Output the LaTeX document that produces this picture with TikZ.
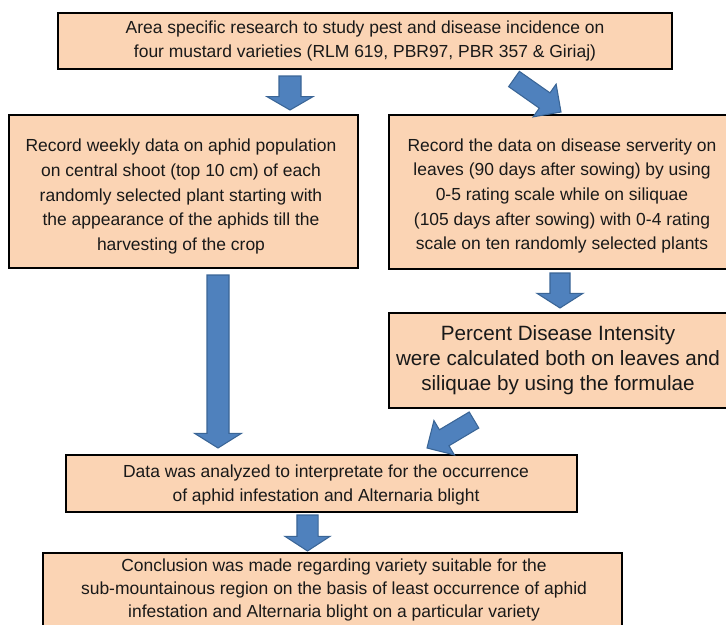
\documentclass[tikz,border=0pt]{standalone}
\usepackage{fontspec}
\setmainfont{Liberation Sans}
\usetikzlibrary{calc,shadows}
\definecolor{boxfill}{HTML}{FBD4B4}
\definecolor{arrfill}{HTML}{4F81BD}
\definecolor{arrdraw}{HTML}{3A6596}
\newcommand\barrow[5]{%
  \coordinate (hb) at ($(#2)!#5!(#1)$);
  \filldraw[blockarrow] ($(#1)!#3!90:(#2)$) -- ($(hb)!#3!-90:(#1)$) -- ($(hb)!#4!-90:(#1)$) -- (#2)
    -- ($(hb)!#4!90:(#1)$) -- ($(hb)!#3!90:(#1)$) -- ($(#1)!#3!-90:(#2)$) -- cycle;}
\begin{document}
\begin{tikzpicture}[x=0.75pt,y=-0.75pt,
  frame/.style={draw=black, line width=1.3pt, fill=boxfill, inner sep=0pt,
    drop shadow={shadow xshift=1pt, shadow yshift=-1pt, fill=black!45, opacity=0.6}},
  txt/.style={align=center, font=\fontsize{13.1}{18.5}\selectfont, text=black!90, inner sep=0pt},
  blockarrow/.style={fill=arrfill, draw=arrdraw, line width=0.8pt, line join=miter}]
\useasboundingbox (0,0) rectangle (726,625);
% boxes
\node[frame, minimum width=614*0.75pt, minimum height=56*0.75pt] (b1) at (365,41) {};
\node[txt] (t1) at (365,41) {Area specific research to study pest and disease incidence on\\four mustard varieties (RLM 619, PBR97, PBR 357 \& Giriaj)};
\node[frame, minimum width=349*0.75pt, minimum height=153*0.75pt] (b2) at (183.5,191.5) {};
\node[txt] (t2) at (181,196.5) {Record weekly data on aphid population\\on central shoot (top 10 cm) of each\\randomly selected plant starting with\\the appearance of the aphids till the\\harvesting of the crop};
\node[frame, minimum width=341*0.75pt, minimum height=154*0.75pt] (b3) at (559.5,192) {};
\node[txt] (t3) at (562,196) {Record the data on disease serverity on\\leaves (90 days after sowing) by using\\0-5 rating scale while on siliquae\\(105 days after sowing) with 0-4 rating\\scale on ten randomly selected plants};
\node[frame, minimum width=341*0.75pt, minimum height=95*0.75pt] (b4) at (559.5,360.5) {};
\node[txt, font=\fontsize{15.5}{18.75}\selectfont] (t4) at (558,360) {Percent Disease Intensity\\were calculated both on leaves and\\siliquae by using the formulae};
\node[frame, minimum width=511*0.75pt, minimum height=57*0.75pt] (b5) at (321.5,483.5) {};
\node[txt] (t5) at (326,485) {Data was analyzed to interpretate for the occurrence\\of aphid infestation and Alternaria blight};
\node[frame, minimum width=579*0.75pt, minimum height=75*0.75pt] (b6) at (332.5,590.5) {};
\node[txt, font=\fontsize{13.1}{17.3}\selectfont] (t6) at (334,590) {Conclusion was made regarding variety suitable for the\\sub-mountainous region on the basis of least occurrence of aphid\\infestation and Alternaria blight on a particular variety};
% arrow end points
\coordinate (a1s) at (290,76);  \coordinate (a1e) at (290,110);
\coordinate (a2s) at (514,79);  \coordinate (a2e) at (561,112);
\coordinate (a3s) at (560,273); \coordinate (a3e) at (560,308);
\coordinate (a4s) at (474,420); \coordinate (a4e) at (427,448);
\coordinate (a5s) at (218,275); \coordinate (a5e) at (218,448);
\coordinate (a6s) at (307.5,515); \coordinate (a6e) at (307.5,551);
\barrow{a1s}{a1e}{8.25pt}{17.25pt}{10pt}
\barrow{a2s}{a2e}{7pt}{15pt}{15pt}
\barrow{a3s}{a3e}{7.5pt}{17.25pt}{11pt}
\barrow{a4s}{a4e}{7pt}{15pt}{15pt}
\barrow{a5s}{a5e}{8.25pt}{17.6pt}{11pt}
\barrow{a6s}{a6e}{7.9pt}{16.9pt}{11pt}
\end{tikzpicture}
\end{document}
